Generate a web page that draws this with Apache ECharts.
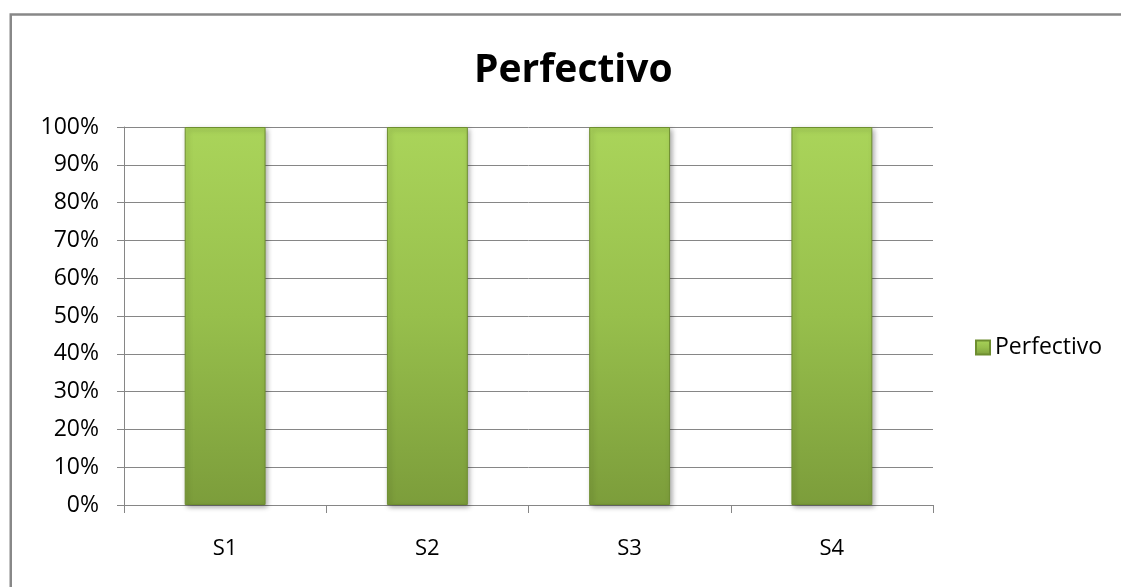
<!DOCTYPE html>
<html>
<head>
<meta charset="utf-8">
<script src="https://cdn.jsdelivr.net/npm/echarts@6/dist/echarts.min.js"></script>
<style>html,body{margin:0;padding:0;background:#fff}#c{width:1121px;height:587px}</style>
</head>
<body>
<div id="c"></div>
<script>
const categories = ['S1', 'S2', 'S3', 'S4'];
const seriesName = 'Perfectivo';
const values = [100, 100, 100, 100];
const titleText = 'Perfectivo';

const chart = echarts.init(document.getElementById('c'), null, {renderer: 'canvas'});
const barGrad = new echarts.graphic.LinearGradient(0, 0, 0, 1, [
  {offset: 0, color: '#aad45a'},
  {offset: 0.5, color: '#97bf4c'},
  {offset: 1, color: '#7c9d3b'}
]);
const font = '"Open Sans", sans-serif';
chart.setOption({
  animation: false,
  backgroundColor: '#fff',
  title: {
    text: titleText, left: 469, top: 46,
    textStyle: {fontFamily: font, fontSize: 39, fontWeight: 'bold', color: '#000'}
  },
  legend: {
    data: [seriesName], orient: 'vertical', left: 970, top: 331,
    itemWidth: 14, itemHeight: 14, itemGap: 8,
    textStyle: {fontFamily: font, fontSize: 23, color: '#000'},
    icon: 'rect'
  },
  grid: {left: 124, right: 188, top: 127, bottom: 82, containLabel: false},
  xAxis: {
    type: 'category', data: categories,
    axisLine: {lineStyle: {color: '#868686', width: 1}},
    axisTick: {show: true, length: 8, lineStyle: {color: '#868686'}},
    axisLabel: {fontFamily: font, fontSize: 22, color: '#000', margin: 33}
  },
  yAxis: {
    type: 'value', min: 0, max: 100, interval: 10,
    axisLine: {show: true, lineStyle: {color: '#868686', width: 1}},
    axisTick: {show: true, length: 7, lineStyle: {color: '#868686'}},
    axisLabel: {formatter: '{value}%', fontFamily: font, fontSize: 23, color: '#000', margin: 25},
    splitLine: {lineStyle: {color: '#868686', width: 1}}
  },
  series: [{
    name: seriesName, type: 'bar', data: values, barWidth: '40%',
    itemStyle: {
      color: barGrad, borderColor: '#6e8e30', borderWidth: 1,
      shadowBlur: 5, shadowColor: 'rgba(0,0,0,0.35)', shadowOffsetX: 2, shadowOffsetY: 2
    }
  }],
  graphic: [{
    type: 'rect', silent: true, z: 100,
    shape: {x: 10.75, y: 14.5, width: 1300, height: 800},
    style: {fill: 'none', stroke: '#888', lineWidth: 2.5}
  }]
});
</script>
</body>
</html>
